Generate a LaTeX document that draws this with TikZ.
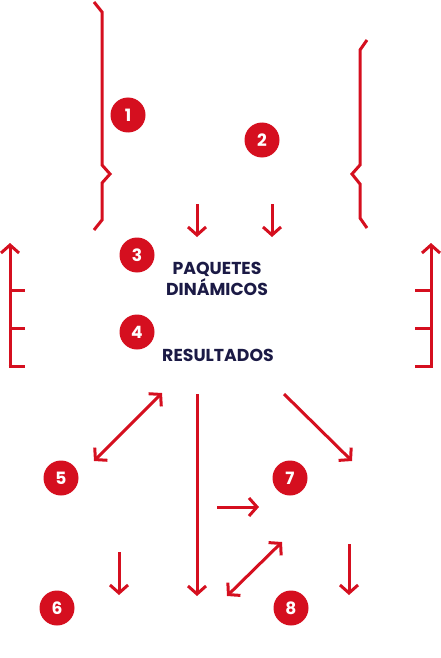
\documentclass[tikz,border=0pt]{standalone}
\usepackage{fontspec}
\setmainfont{Poppins}
\usetikzlibrary{arrows.meta}
\definecolor{rojo}{HTML}{D50F1F}
\definecolor{navy}{HTML}{1B1A45}
\begin{document}
\begin{tikzpicture}[x=1pt,y=-1pt,
  line/.style={draw=rojo,line width=3pt},
  arr/.style={line,-{Straight Barb[length=8pt,width=18pt,line width=3pt]}},
  darr/.style={line,{Straight Barb[length=8pt,width=18pt,line width=3pt]}-{Straight Barb[length=8pt,width=18pt,line width=3pt]}},
  num/.style={circle,fill=rojo,minimum size=35pt,inner sep=0pt,text=white,font=\fontsize{17}{17}\selectfont\bfseries},
  lbl/.style={text=navy,font=\fontsize{17.3}{21}\selectfont\bfseries,align=center}]
\useasboundingbox (0,0) rectangle (441,658);
% braces
\draw[line,line join=miter] (94,2) -- (102,12) -- (102,165) -- (110,174) -- (102,183) -- (102,220) -- (94,230);
\draw[line,line join=miter] (367,40) -- (360,50) -- (360,165) -- (352,174) -- (360,184) -- (360,218) -- (367,228);
% E-shapes
\coordinate (lt) at (10,243); \coordinate (lb) at (10,366);
\draw[arr] (lb) -- (lt);
\draw[line] (8.5,366) -- (25,366);
\draw[line] (10,290) -- (25,290);
\draw[line] (10,328) -- (25,328);
\coordinate (rt) at (431,243); \coordinate (rb) at (431,366);
\draw[arr] (rb) -- (rt);
\draw[line] (432.5,366) -- (415,366);
\draw[line] (431,290) -- (415,290);
\draw[line] (431,328) -- (415,328);
% numbers
\node[num] (n1) at (128,115) {1};
\node[num] (n2) at (262,140) {2};
\node[num] (n3) at (137,255) {3};
\node[num] (n4) at (137,332) {4};
\node[num] (n5) at (61,478) {5};
\node[num] (n6) at (57,608) {6};
\node[num] (n7) at (290,478) {7};
\node[num] (n8) at (291,608) {8};
% labels
\node[lbl] (paq) at (217,279) {PAQUETES\\DINÁMICOS};
\node[lbl] (res) at (218,355) {RESULTADOS};
% arrows
\coordinate (a1s) at (197,204); \coordinate (a1e) at (197,237);
\coordinate (a2s) at (272,204); \coordinate (a2e) at (272,237);
\draw[arr] (a1s) -- (a1e);
\draw[arr] (a2s) -- (a2e);
\coordinate (d5a) at (162,393); \coordinate (d5b) at (94,461);
\draw[darr] (d5a) -- (d5b);
\coordinate (a7s) at (284,394); \coordinate (a7e) at (352,461);
\draw[arr] (a7s) -- (a7e);
\coordinate (vs) at (197,394); \coordinate (ve) at (197,596);
\draw[arr] (vs) -- (ve);
\coordinate (hs) at (217,507); \coordinate (he) at (259,507);
\draw[arr] (hs) -- (he);
\coordinate (d8a) at (282,542); \coordinate (d8b) at (227,596);
\draw[darr] (d8a) -- (d8b);
\coordinate (a6s) at (119,552); \coordinate (a6e) at (119,595);
\draw[arr] (a6s) -- (a6e);
\coordinate (a8s) at (349,544); \coordinate (a8e) at (349,595);
\draw[arr] (a8s) -- (a8e);
\end{tikzpicture}
\end{document}
